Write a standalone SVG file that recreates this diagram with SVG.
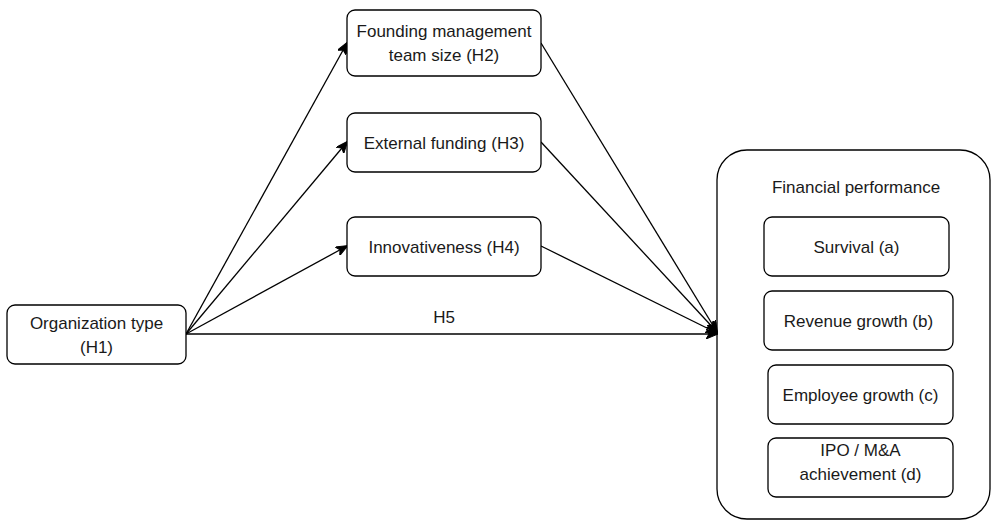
<svg xmlns="http://www.w3.org/2000/svg" width="992" height="520" viewBox="0 0 992 520">
  <defs>
    <style>
      .box { fill: #ffffff; stroke: #000000; stroke-width: 1.3; }
      .big { fill: #ffffff; stroke: #000000; stroke-width: 1.3; }
      .lbl { font-family: "Liberation Sans", Arial, sans-serif; font-size: 17px; fill: #1a1a1a; text-anchor: middle; }
      .edge { fill: none; stroke: #000000; stroke-width: 1.3; }
      .arr { marker-end: url(#arrow); }
    </style>
    <marker id="arrow" viewBox="0 0 12 10" refX="11" refY="5" markerWidth="12" markerHeight="10" markerUnits="userSpaceOnUse" orient="auto">
      <path d="M0,0 L12,5 L0,10 L3,5 Z" fill="#000000" stroke="#000000" stroke-width="1"/>
    </marker>
  </defs>
  <rect width="992" height="520" fill="#ffffff"/>

  <g id="financial-performance">
    <rect class="big" x="717" y="150" width="273" height="369" rx="30" ry="30"/>
    <text class="lbl" x="856" y="193">Financial performance</text>
  </g>

  <g id="connectors">
    <line class="edge arr" x1="186" y1="334" x2="347" y2="43"/>
    <line class="edge arr" x1="186" y1="334" x2="347" y2="142"/>
    <line class="edge arr" x1="186" y1="334" x2="347" y2="246"/>
    <line class="edge arr" x1="186" y1="334" x2="717" y2="334"/>
    <line class="edge arr" x1="541" y1="43" x2="717" y2="332"/>
    <line class="edge arr" x1="541" y1="142" x2="717" y2="332"/>
    <line class="edge arr" x1="541" y1="246" x2="717" y2="333"/>
    <text class="lbl" x="444" y="323">H5</text>
  </g>

  <g id="org-type">
    <rect class="box" x="7" y="305" width="179" height="59" rx="8" ry="8"/>
    <text class="lbl" x="96.5" y="329">Organization type</text>
    <text class="lbl" x="96.5" y="353">(H1)</text>
  </g>

  <g id="team-size">
    <rect class="box" x="347" y="10" width="194" height="66" rx="8" ry="8"/>
    <text class="lbl" x="444" y="37">Founding management</text>
    <text class="lbl" x="444" y="61">team size (H2)</text>
  </g>

  <g id="external-funding">
    <rect class="box" x="347" y="113" width="194" height="59" rx="8" ry="8"/>
    <text class="lbl" x="444" y="148.5">External funding (H3)</text>
  </g>

  <g id="innovativeness">
    <rect class="box" x="347" y="217" width="194" height="59" rx="8" ry="8"/>
    <text class="lbl" x="444" y="252.5">Innovativeness (H4)</text>
  </g>

  <g id="survival">
    <rect class="box" x="764" y="217" width="185" height="59" rx="8" ry="8"/>
    <text class="lbl" x="856.5" y="252.5">Survival (a)</text>
  </g>

  <g id="revenue-growth">
    <rect class="box" x="764" y="291" width="189" height="59" rx="8" ry="8"/>
    <text class="lbl" x="858.5" y="326.5">Revenue growth (b)</text>
  </g>

  <g id="employee-growth">
    <rect class="box" x="768" y="365" width="185" height="59" rx="8" ry="8"/>
    <text class="lbl" x="860.5" y="400.5">Employee growth (c)</text>
  </g>

  <g id="ipo-ma">
    <rect class="box" x="768" y="438" width="185" height="59" rx="8" ry="8"/>
    <text class="lbl" x="860.5" y="456">IPO / M&amp;A</text>
    <text class="lbl" x="860.5" y="480">achievement (d)</text>
  </g>
</svg>
